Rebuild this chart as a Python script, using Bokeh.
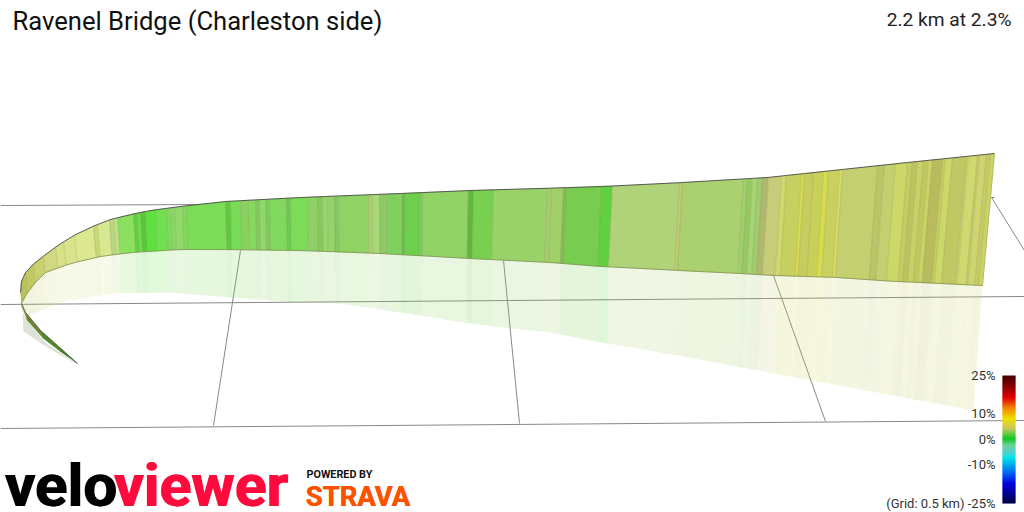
import numpy as np
from bokeh.plotting import figure
from bokeh.models import Range1d
from bokeh.core.properties import value
from bokeh.embed import file_html
from bokeh.resources import INLINE

title_text = "Ravenel Bridge (Charleston side)"
summary_text = "2.2 km at 2.3%"
scale_labels = ["25%", "10%", "0%", "-10%", "(Grid: 0.5 km) -25%"]
scale_label_y = [375, 413, 439, 464, 503]

top_x = [20, 21, 25, 30, 40, 50, 62, 75, 92, 110, 130, 150, 180, 225, 300, 400, 470, 540, 600, 650, 682, 767, 823, 907, 994]
top_y = [292, 281, 272, 266, 258, 250, 242, 234, 226, 219, 214, 210, 206, 201, 197, 193, 190, 188, 186, 184, 182, 177, 171, 162, 153]
bot_x = [21, 24, 30, 45, 70, 100, 130, 180, 220, 300, 380, 470, 550, 600, 650, 678, 740, 773, 837, 887, 982]
bot_y = [303, 297, 287, 272, 263, 256, 252, 249, 249, 250, 253, 258, 262, 266, 268, 270, 273, 275, 277, 280.5, 285]
shad_x = [21, 28, 35, 60, 110, 170, 230, 300, 340, 400, 470, 510, 550, 600, 650, 973]
shad_y = [310, 317, 312, 302, 293, 292, 297, 302, 303, 312, 323, 328, 332, 342, 350, 410]
lean_x = [20, 75, 150, 400, 612, 682, 768, 842, 943, 994]
lean = [1, 3, 2, 0, -4, -5, -6, -7, -11, -12]
drop_x = [20, 400, 608, 982]
drop = [1, 0, -1, -9]

station = [20, 21, 25, 33, 43, 55, 63, 74, 93, 97, 109, 113, 117, 133, 137, 140, 145, 155, 166, 170, 174, 182,
           186, 225, 230, 240, 248, 255, 259, 265, 269, 286, 290, 307, 317, 322, 327, 334, 338, 368, 372, 379,
           386, 402, 404, 419, 422, 468, 473, 493, 547, 551, 563, 566, 601, 612, 679, 682, 743, 747, 752, 757,
           762, 768, 781, 786, 801, 804, 813, 823, 828, 839, 842, 877, 884, 895, 907, 912, 917, 923, 928, 932,
           942, 945, 952, 966, 968, 977, 979, 986, 990, 994]
colour = ["#bcc45c", "#bcc45c", "#c0c860", "#c8d070", "#d0d880", "#d8e088", "#d8e48c", "#dce890", "#c8d878", "#d8e890",
          "#b8d880", "#c0e088", "#8ce060", "#60d040", "#70dc50", "#58c838", "#60e040", "#70e050", "#80d860", "#88d868",
          "#90d868", "#80d860", "#7cdc58", "#60c840", "#78dc58", "#88d060", "#88d860", "#80c860", "#90d868", "#80c860",
          "#80d85c", "#6cc850", "#7cdc58", "#90d068", "#88c860", "#98d470", "#94d468", "#84c860", "#90d264", "#a8d070",
          "#a8d878", "#90c868", "#80d060", "#60c040", "#6cd04c", "#80c860", "#90d264", "#60b840", "#78d050", "#98d268",
          "#a8cc70", "#a0d068", "#88b858", "#78cc50", "#60d040", "#b0d278", "#c0cc70", "#aad070", "#a0d070", "#98c860",
          "#a8d478", "#a0cc70", "#b0b870", "#c6cc78", "#d0d870", "#c6d060", "#d8dc50", "#c8cc60", "#c8d058", "#d8dc4c",
          "#c8d060", "#d8dc60", "#c4d070", "#bcc468", "#c4d070", "#ccd868", "#c4cc64", "#bcc460", "#c8d068", "#c0c860",
          "#ccd468", "#b8bc5c", "#c4cc64", "#ccd868", "#c0c864", "#c8d070", "#d0d870", "#c4cc68", "#d0d470", "#c4cc68",
          "#ccd464", "#c8d068"]

tail_up_x = [21, 25, 40, 58, 77]
tail_up_y = [303, 312, 330, 346, 363]
tail_lo_x = [21, 27, 43, 60, 77]
tail_lo_y = [305, 320, 338, 351, 363]
tail_colour = ["#949e3e", "#6c8430", "#4f8a28", "#3f7f22"]
tail_shadow_x = [22, 23, 50, 77, 45, 28]
tail_shadow_y = [312, 331, 349, 364, 342, 322]

grid_x = [[0, 200], [0, 1024], [0, 1024], [213, 240], [519, 503], [825, 773], [994, 991, 1024]]
grid_y = [[205, 204], [304, 296], [428, 420], [425, 250], [423, 260], [421, 275], [197, 197, 250]]

bar_stop_y = [375, 387, 397, 407, 418, 428, 438, 445, 452, 457, 473, 483, 503]
bar_stop_rgb = [(64, 0, 0), (144, 0, 0), (224, 0, 0), (240, 128, 0), (240, 224, 0), (200, 200, 96), (16, 200, 32),
                (112, 208, 160), (80, 208, 208), (0, 232, 232), (0, 96, 240), (0, 0, 224), (0, 0, 64)]

p = figure(width=1024, height=512, output_backend="svg", toolbar_location=None,
           x_range=Range1d(0, 1024), y_range=Range1d(512, 0),
           min_border=0, outline_line_color=None)
p.axis.visible = False
p.grid.visible = False

p.multi_line(grid_x, grid_y, line_color="#888888", line_width=1)

st = np.array(station, dtype=float)
ty = np.interp(st, top_x, top_y)
bx = st + np.interp(st, lean_x, lean)
by = np.interp(bx, bot_x, bot_y)
sx = bx + np.interp(bx, drop_x, drop)
sy = np.interp(sx, shad_x, shad_y)

# shadow
p.patches([[bx[i], bx[i + 1], sx[i + 1], sx[i]] for i in range(len(st) - 1)],
          [[by[i], by[i + 1], sy[i + 1], sy[i]] for i in range(len(st) - 1)],
          fill_color=colour[:len(st) - 1], fill_alpha=0.2, line_color=None)
p.patch(tail_shadow_x, tail_shadow_y, fill_color="#7d8f6a", fill_alpha=0.25, line_color=None)

# ribbon
p.patches([[st[i], st[i + 1], bx[i + 1], bx[i]] for i in range(len(st) - 1)],
          [[ty[i], ty[i + 1], by[i + 1], by[i]] for i in range(len(st) - 1)],
          fill_color=colour[:len(st) - 1], line_color=colour[:len(st) - 1], line_width=0.4)
p.segment(st[1:-1], ty[1:-1], bx[1:-1], by[1:-1], line_color="#707030", line_alpha=0.28, line_width=0.7)
p.patches([[tail_up_x[i], tail_up_x[i + 1], tail_lo_x[i + 1], tail_lo_x[i]] for i in range(4)],
          [[tail_up_y[i], tail_up_y[i + 1], tail_lo_y[i + 1], tail_lo_y[i]] for i in range(4)],
          fill_color=tail_colour, line_color=tail_colour, line_width=0.5)
p.line(list(st), list(ty), line_color="#4a4a4a", line_width=0.9)
p.line(list(bx), list(by), line_color="#7f8f50", line_width=0.8)
p.line([st[-1], bx[-1]], [ty[-1], by[-1]], line_color="#a8b060", line_width=0.8)
p.line(tail_up_x, tail_up_y, line_color="#555", line_width=0.8)

# colour scale
rows = np.arange(375, 503)
rgb = [np.interp(rows + 0.5, bar_stop_y, [c[k] for c in bar_stop_rgb]) for k in range(3)]
bar_cols = ["#%02x%02x%02x" % (int(r), int(g), int(b)) for r, g, b in zip(*rgb)]
p.quad(left=1002, right=1015, top=rows, bottom=np.minimum(rows + 1.6, 503), fill_color=bar_cols, line_color=None)

p.text([995] * 5, scale_label_y, text=scale_labels, text_font=value("Roboto"), text_font_size="13px",
       text_color="#333333", text_align="right", text_baseline="middle")
p.text([12], [20], text=[title_text], text_font=value("Roboto"), text_font_size="25.6px",
       text_color="#111111", text_baseline="middle")
p.text([1011], [19], text=[summary_text], text_font=value("Roboto"), text_font_size="19.2px",
       text_color="#222222", text_align="right", text_baseline="middle")

# logo
for dx in (0, 1.2):
    p.text([4 + dx], [485], text=["velo"], text_font=value("Roboto"), text_font_style="bold",
           text_font_size="60px", text_color="#000000", text_baseline="middle")
    p.text([113 + dx], [485], text=["viewer"], text_font=value("Roboto"), text_font_style="bold",
           text_font_size="59px", text_color="#ff0a3c", text_baseline="middle")
p.text([306], [474], text=["POWERED BY"], text_font=value("Roboto"), text_font_style="bold",
       text_font_size="10.8px", text_color="#111111", text_baseline="middle")
for dx in (0, 0.6):
    p.text([305 + dx], [496], text=["STRAVA"], text_font=value("Roboto"), text_font_style="bold",
           text_font_size="27.5px", text_color="#fc5200", text_baseline="middle")

open("out.html", "w").write(file_html(p, INLINE))
